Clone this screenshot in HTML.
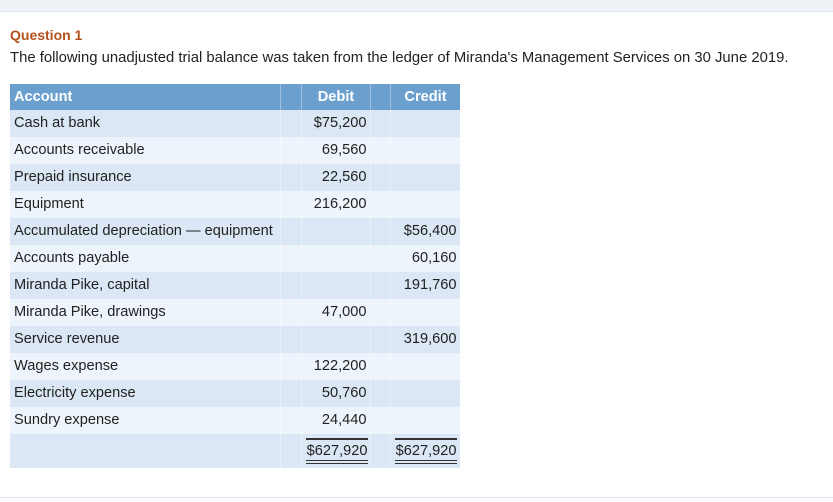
<!DOCTYPE html>
<html><head><meta charset="utf-8"><style>
*{margin:0;padding:0;box-sizing:border-box}
body{width:833px;height:502px;background:#fff;font-family:"Liberation Sans",Arial,sans-serif;position:relative;overflow:hidden;color:#222}
.top{position:absolute;left:0;top:0;width:833px;height:12px;background:#eef2f6;border-bottom:1px solid #dde3ea}
.bot{position:absolute;left:0;top:497px;width:833px;height:5px;border-top:1px solid #dde3ea;background:#fafbfc}
h1{position:absolute;left:10px;top:27px;font-size:14px;font-weight:bold;color:#b5501c}
.intro{position:absolute;left:10px;top:50px;font-size:14.85px;color:#222;white-space:nowrap}
table{position:absolute;left:10px;top:84px;border-collapse:collapse;font-size:14.6px;table-layout:fixed;width:450px}
td,th{padding:0 3px 2px 4px;height:27px;border-right:1px solid rgba(255,255,255,0.35);white-space:nowrap;overflow:visible}
th{background:#6b9fcd;color:#fff;font-weight:bold;height:26px;padding-bottom:0}
tr.o td{background:#dbe7f5}
tr.e td{background:#eef4fb}
.a{width:270px;text-align:left}
.s{width:21px}
.s2{width:20px}
.n{width:69px;text-align:right}
.n2{width:70px;text-align:right}
th.n,th.n2{text-align:center}
tr.t td{height:34px;padding-bottom:0}
.tot{display:inline-block;border-top:2px solid #333;border-bottom:4px double #333;padding:3px 0 1px;line-height:16px}
.tot.w{width:62px;text-align:right}
</style></head><body>
<div class="top"></div>
<h1>Question 1</h1>
<div class="intro">The following unadjusted trial balance was taken from the ledger of Miranda's Management Services on 30 June 2019.</div>
<table>
<colgroup><col style="width:270px"><col style="width:21px"><col style="width:69px"><col style="width:20px"><col style="width:70px"></colgroup>
<tr><th class="a">Account</th><th class="s"></th><th class="n">Debit</th><th class="s2"></th><th class="n2">Credit</th></tr>
<tr class="o"><td class="a">Cash at bank</td><td class="s"></td><td class="n">$75,200</td><td class="s2"></td><td class="n2"></td></tr>
<tr class="e"><td class="a">Accounts receivable</td><td class="s"></td><td class="n">69,560</td><td class="s2"></td><td class="n2"></td></tr>
<tr class="o"><td class="a">Prepaid insurance</td><td class="s"></td><td class="n">22,560</td><td class="s2"></td><td class="n2"></td></tr>
<tr class="e"><td class="a">Equipment</td><td class="s"></td><td class="n">216,200</td><td class="s2"></td><td class="n2"></td></tr>
<tr class="o"><td class="a">Accumulated depreciation — equipment</td><td class="s"></td><td class="n"></td><td class="s2"></td><td class="n2">$56,400</td></tr>
<tr class="e"><td class="a">Accounts payable</td><td class="s"></td><td class="n"></td><td class="s2"></td><td class="n2">60,160</td></tr>
<tr class="o"><td class="a">Miranda Pike, capital</td><td class="s"></td><td class="n"></td><td class="s2"></td><td class="n2">191,760</td></tr>
<tr class="e"><td class="a">Miranda Pike, drawings</td><td class="s"></td><td class="n">47,000</td><td class="s2"></td><td class="n2"></td></tr>
<tr class="o"><td class="a">Service revenue</td><td class="s"></td><td class="n"></td><td class="s2"></td><td class="n2">319,600</td></tr>
<tr class="e"><td class="a">Wages expense</td><td class="s"></td><td class="n">122,200</td><td class="s2"></td><td class="n2"></td></tr>
<tr class="o"><td class="a">Electricity expense</td><td class="s"></td><td class="n">50,760</td><td class="s2"></td><td class="n2"></td></tr>
<tr class="e"><td class="a">Sundry expense</td><td class="s"></td><td class="n">24,440</td><td class="s2"></td><td class="n2"></td></tr>
<tr class="o t"><td class="a"></td><td class="s"></td><td class="n"><span class="tot w">$627,920</span></td><td class="s2"></td><td class="n2"><span class="tot w">$627,920</span></td></tr>
</table>
<div class="bot"></div>
</body></html>
